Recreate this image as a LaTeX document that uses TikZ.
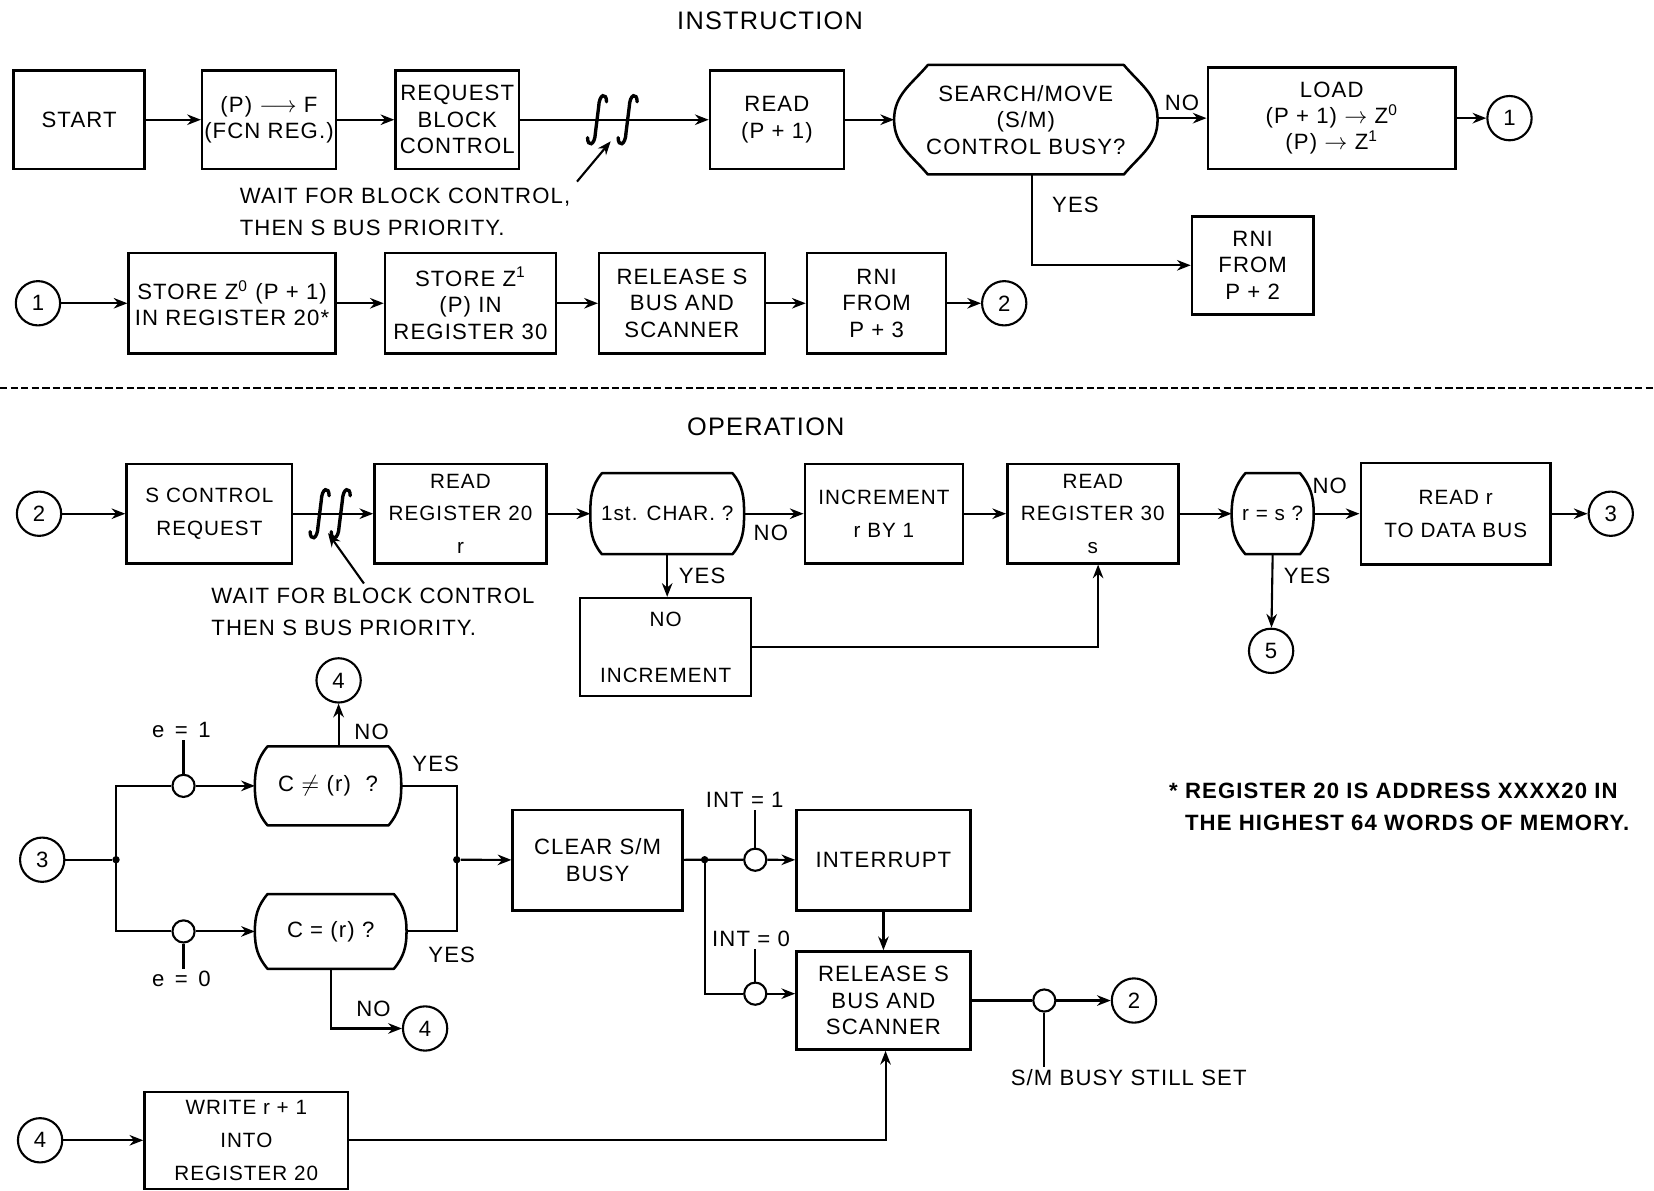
\documentclass[tikz,border=0pt]{standalone}
\usepackage{fontspec}
\setmainfont{Liberation Sans}[LetterSpace=5]
\usetikzlibrary{arrows.meta,calc}
\newcommand{\mybox}[7][]{\node[bx,#1,minimum width={(#5-#3)*0.5pt},minimum height={(#6-#4)*0.5pt}] (#2) at ({(#3+#5)/2},{(#4+#6)/2}) {#7};}
\newcommand{\mydec}[8][]{%
  \node[dectext,#1,minimum width={(#5-#3)*0.5pt},minimum height={(#6-#4)*0.5pt}] (#2) at ({(#3+#5)/2},{(#4+#6)/2}) {#8};
  \draw[boxline] ([xshift=#7*0.5pt]#2.north west) -- ([xshift=-#7*0.5pt]#2.north east)
    to[out=-50,in=90] (#2.east) to[out=-90,in=50] ([xshift=-#7*0.5pt]#2.south east)
    -- ([xshift=#7*0.5pt]#2.south west) to[out=130,in=-90] (#2.west)
    to[out=90,in=-130] ([xshift=#7*0.5pt]#2.north west) -- cycle;}
% integral sign drawn around node #1, horizontal offset #2 (px)
\newcommand{\integ}[2]{%
  \draw[intg] ($(#1.center)+(#2+9,-17)$) .. controls ($(#1.center)+(#2+9,-26)$) and ($(#1.center)+(#2+2,-25)$) .. ($(#1.center)+(#2+1.5,-12)$)
    -- ($(#1.center)+(#2-1.5,12)$) .. controls ($(#1.center)+(#2-2,25)$) and ($(#1.center)+(#2-9,26)$) .. ($(#1.center)+(#2-9,17)$);}
\begin{document}
\begin{tikzpicture}[x=0.5pt,y=-0.5pt,
  bx/.style={draw,line width=1.2pt,align=center,inner sep=1pt,font=\fontsize{10.5}{12.5}\selectfont},
  ops/.style={font=\fontsize{9.8}{15.5}\selectfont},
  boxline/.style={line width=1.2pt,line join=round},
  dectext/.style={align=center,inner sep=0pt,font=\fontsize{10.5}{12.5}\selectfont},
  circ/.style={circle,draw,line width=1pt,minimum size=21pt,inner sep=0pt,font=\fontsize{10.5}{12}\selectfont},
  smc/.style={circle,draw,line width=1pt,minimum size=10.5pt,inner sep=0pt},
  jdot/.style={circle,fill,inner sep=0pt,minimum size=3.5pt},
  ln/.style={line width=1pt},
  intg/.style={line width=1.6pt,line cap=round},
  ffbox/.style={inner sep=0pt,minimum width=22pt,minimum height=22pt},
  arr/.style={line width=1pt,-{Stealth[length=6.5pt,width=5pt]}},
  lbl/.style={inner sep=1pt,font=\fontsize{10.5}{12}\selectfont},
  ttl/.style={inner sep=1pt,font=\fontsize{12}{14}\selectfont},
  note/.style={inner sep=1pt,align=left,font=\fontsize{10.5}{15}\selectfont},
  fnote/.style={inner sep=1pt,align=left,font=\bfseries\fontsize{10.5}{15.5}\selectfont},
  sepline/.style={line width=1pt,dash pattern=on 3.5pt off 1.5pt}]
\useasboundingbox (0,0) rectangle (1568,1129);

% ---------- INSTRUCTION ----------
\node[ttl] (t1) at (730,20) {INSTRUCTION};
\mybox{start}{13}{67}{137}{160}{START}
\mybox{pf}{192}{67}{318}{160}{(P) $\longrightarrow$ F\\(FCN REG.)}
\mybox{req}{375}{67}{492}{160}{REQUEST\\BLOCK\\CONTROL}
\node[ffbox] (ff1) at (581,113.5) {};
\mybox{rd}{673}{67}{800}{160}{READ\\(P + 1)}
\mydec{sm}{848}{62}{1097}{165}{32}{SEARCH/MOVE\\(S/M)\\CONTROL BUSY?}
\mybox{load}{1145}{64}{1380}{160}{LOAD\\(P + 1) $\rightarrow$ Z\textsuperscript{0}\\(P) $\rightarrow$ Z\textsuperscript{1}}
\node[circ] (c1a) at (1431,112) {1};
\mybox{rni2}{1130}{205}{1245}{298}{RNI\\FROM\\P + 2}

\draw[arr] (start) -- (pf);
\draw[arr] (pf) -- (req);
\draw[ln] (req.east) -- (ff1.center);
\draw[arr] (ff1.center) -- (rd.west);
\integ{ff1}{-15}
\integ{ff1}{14}
\draw[arr] (rd) -- (sm);
\draw[arr] (sm.east |- load.west) -- node[lbl,above=2pt]{NO} (load.west);
\draw[arr] (load) -- (c1a);
\draw[arr] ([xshift=3pt]sm.south) |- node[lbl,pos=0.17,right=8pt]{YES} (rni2.west);

\node[note,anchor=west] (w1) at (225,201) {WAIT FOR BLOCK CONTROL,\\THEN S BUS PRIORITY.};
\draw[arr] ([xshift=2pt,yshift=2pt]w1.north east) -- ([xshift=-1pt,yshift=1pt]ff1.south);

\node[circ] (c1b) at (36,287.5) {1};
\mybox{st0}{122}{240}{318}{335}{STORE Z\textsuperscript{0} (P + 1)\\IN REGISTER 20*}
\mybox{st1}{365}{240}{527}{335}{STORE Z\textsuperscript{1}\\(P) IN\\REGISTER 30}
\mybox{rel1}{568}{240}{725}{335}{RELEASE S\\BUS AND\\SCANNER}
\mybox{rni3}{765}{240}{897}{335}{RNI\\FROM\\P + 3}
\node[circ] (c2a) at (952,287.5) {2};
\draw[arr] (c1b) -- (st0);
\draw[arr] (st0) -- (st1);
\draw[arr] (st1) -- (rel1);
\draw[arr] (rel1) -- (rni3);
\draw[arr] (rni3) -- (c2a);

% separator
\coordinate (dl) at (0,368);
\coordinate (dr) at (1568,368);
\draw[sepline] (dl) -- (dr);

% ---------- OPERATION ----------
\node[ttl] (t2) at (726,405) {OPERATION};
\node[circ] (c2b) at (37,487) {2};
\mybox[ops]{screq}{120}{440}{277}{534}{S CONTROL\\REQUEST}
\node[ffbox] (ff2) at (313,487) {};
\mybox[ops]{rr20}{355}{440}{518}{534}{READ\\REGISTER 20\\r}
\mydec[ops]{fc}{560}{449}{705}{525}{11}{1st. CHAR. ?}
\mybox[ops]{inc}{763}{440}{913}{534}{INCREMENT\\r BY 1}
\mybox[ops]{rr30}{955}{440}{1117}{534}{READ\\REGISTER 30\\s}
\mydec[ops]{rs}{1168}{449}{1245}{525}{13}{r = s ?}
\mybox[ops]{rdb}{1290}{439}{1470}{535}{READ r\\TO DATA BUS}
\node[circ] (c3a) at (1527,487) {3};
\node[circ] (c5) at (1205,617) {5};
\mybox[ops]{noinc}{550}{567}{712}{660}{NO\\[11pt]INCREMENT}

\draw[arr] (c2b) -- (screq);
\draw[ln] (screq.east) -- (ff2.center);
\draw[arr] (ff2.center) -- (rr20.west);
\integ{ff2}{-10}
\integ{ff2}{10}
\draw[arr] (rr20) -- (fc);
\draw[arr] (fc) -- node[lbl,below=4pt,pos=0.45]{NO} (inc);
\draw[arr] (fc.south) -- node[lbl,right=4pt]{YES} (fc.south |- noinc.north);
\draw[arr] (inc) -- (rr30);
\draw[arr] (noinc.east) -| ([xshift=2.5pt]rr30.south);
\draw[arr] (rr30) -- (rs);
\draw[arr] (rs) -- node[lbl,above=8pt,pos=0.35]{NO} (rdb);
\draw[arr] (rdb) -- (c3a);
\draw[arr] (rs.south) -- node[lbl,right=4pt,pos=0.3]{YES} (c5);

\node[note,anchor=west] (w2) at (198,580) {WAIT FOR BLOCK CONTROL\\THEN S BUS PRIORITY.};
\draw[arr] ([xshift=73.5pt,yshift=1pt]w2.north west) -- ([xshift=-1pt,yshift=2pt]ff2.south);

% ---------- bottom ----------
\node[circ] (c4a) at (321,645) {4};
\mydec{cne}{242}{708}{380}{782}{12}{C $\neq$ (r) \ ?}
\node[smc] (s1) at (174,745) {};
\node[lbl] (e1) at (172,692) {e\hspace{1.5pt} = \hspace{1.5pt}1};
\node[circ] (c3b) at (40,815) {3};
\node[jdot] (j1) at (110,815) {};
\node[smc] (s2) at (174,883) {};
\node[lbl] (e0) at (172,928) {e\hspace{1.5pt} = \hspace{1.5pt}0};
\mydec{ceq}{242}{848}{385}{918}{12}{C = (r) ?}
\node[jdot] (j2) at (433,815) {};
\mybox{clr}{486}{768}{647}{863}{CLEAR S/M\\BUSY}
\node[jdot] (j3) at (668,815) {};
\node[smc] (s3) at (716,815) {};
\node[lbl] (i1) at (706,758) {INT = 1};
\mybox{intr}{755}{768}{920}{863}{INTERRUPT}
\mybox{rel2}{755}{902}{920}{995}{RELEASE S\\BUS AND\\SCANNER}
\node[smc] (s4) at (716,942) {};
\node[lbl] (i0) at (712,890) {INT = 0};
\node[smc] (s5) at (990,948.5) {};
\node[circ] (c2c) at (1075,948.5) {2};
\node[lbl] (smb) at (1070,1022) {S/M BUSY STILL SET};
\node[circ] (c4b) at (403,975) {4};
\node[circ] (c4c) at (38,1081) {4};
\mybox[ops]{wr}{137}{1035}{330}{1127}{WRITE r + 1\\INTO\\REGISTER 20}
\node[fnote,anchor=west] (fn) at (1106,765) {* REGISTER 20 IS ADDRESS XXXX20 IN\\\hphantom{* }THE HIGHEST 64 WORDS OF MEMORY.};

\draw[arr] (c4a |- cne.north) -- node[lbl,right=6pt,pos=0.35]{NO} (c4a);
\draw[ln] (c3b) -- (j1);
\draw[ln] (j1.center) |- (s1);
\draw[arr] (s1) -- (cne);
\draw[ln] (j1.center) |- (s2);
\draw[arr] (s2) -- (ceq);
\draw[ln] (s1.north) -- (s1.north |- e1.south);
\draw[ln] (s2.south) -- (s2.south |- e0.north);
\draw[ln] (cne.east) -| node[lbl,pos=0.31,above=5pt]{YES} (j2.center);
\draw[ln] (ceq.east) -| node[lbl,pos=0.45,below=6pt]{YES} (j2.center);
\draw[arr] (j2) -- (clr);
\draw[arr] (ceq.south) |- node[lbl,pos=0.8,above=4pt]{NO} (c4b);
\draw[ln] (clr) -- (j3.center) -- (s3);
\draw[arr] (s3) -- (intr);
\draw[ln] (s3.north) -- (s3.north |- i1.south);
\draw[ln] (j3.center) |- (s4);
\draw[arr] (s4) -- (s4 -| rel2.west);
\draw[ln] (s4.north) -- (s4.north |- i0.south);
\draw[arr] (intr) -- (rel2);
\draw[ln] (rel2) -- (s5);
\draw[arr] (s5) -- (c2c);
\draw[ln] (s5.south) -- (s5.south |- smb.north);
\draw[arr] (c4c) -- (wr);
\draw[arr] (wr.east) -| ([xshift=1pt]rel2.south);
\end{tikzpicture}
\end{document}
